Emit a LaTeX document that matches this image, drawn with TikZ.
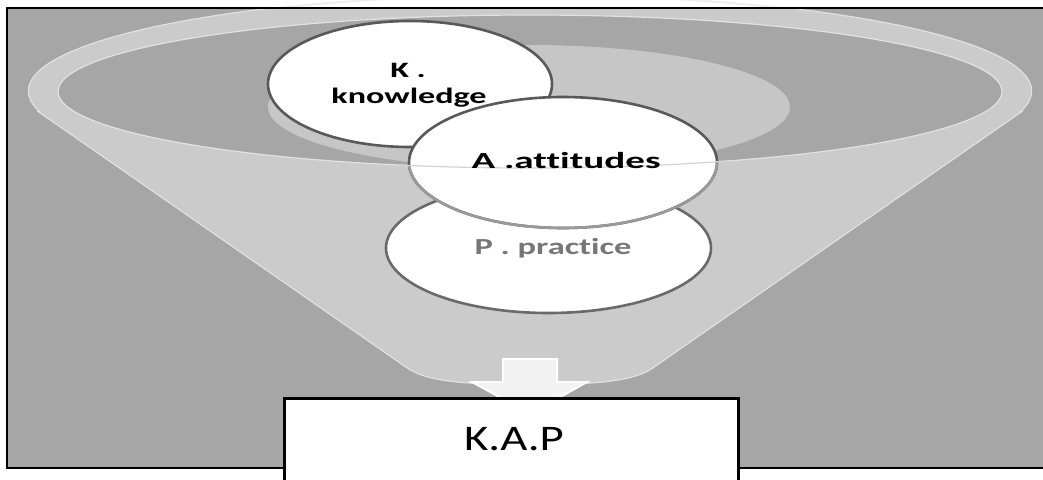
\documentclass[tikz,border=0pt]{standalone}
\usepackage{fontspec}
\setmainfont{Carlito}[Ligatures=NoCommon]
\usepackage{graphicx}
\usetikzlibrary{shapes.geometric}

\definecolor{panel}{HTML}{A6A6A6}
\definecolor{funnelgray}{HTML}{CBCBCB}
\definecolor{rimedge}{HTML}{E2E2E2}
\definecolor{innerlight}{HTML}{C6C6C6}
\definecolor{ringdark}{HTML}{595959}
\definecolor{ringlight}{HTML}{9A9A9A}
\definecolor{arrowfill}{HTML}{F2F2F2}
\definecolor{ptext}{HTML}{777777}

\tikzset{
  ring/.style={ellipse, fill=white, draw=ringdark, line width=2.6pt, inner sep=0pt},
  labelbold/.style={font=\bfseries\fontsize{23}{27}\selectfont, anchor=base, inner sep=0pt},
  resultbox/.style={draw=black, fill=white, line width=3pt, inner sep=0pt},
}
\newcommand{\wider}[2]{\scalebox{#1}[1]{#2}}

\begin{document}
\begin{tikzpicture}[x=1pt,y=-1pt]
\useasboundingbox (0,0) rectangle (1043,479);

% grey panel
\fill[panel] (7,8) rectangle (1050,468);

% faint rim of the funnel above the panel
\begin{scope}
  \clip (0,-5) rectangle (1043,8);
  \draw[rimedge!60!white, line width=2pt] (530,91) ellipse [x radius=501, y radius=96];
\end{scope}

\begin{scope}
  \clip (7,8) rectangle (1043,468);
  % funnel body: edge first, then fill on top
  \draw[rimedge, line width=2.5pt] (530,91) ellipse [x radius=501, y radius=96];
  \draw[rimedge, line width=2.5pt]
    (40,112) -- (407,367) .. controls (425,380) and (460,384) .. (530,384)
    .. controls (600,384) and (635,380) .. (653,367) -- (1020,112) -- cycle;
  \fill[funnelgray] (530,91) ellipse [x radius=501, y radius=96];
  \fill[funnelgray]
    (40,112) -- (407,367) .. controls (425,380) and (460,384) .. (530,384)
    .. controls (600,384) and (635,380) .. (653,367) -- (1020,112) -- cycle;
  % opening of the funnel
  \fill[panel] (530,91.5) ellipse [x radius=472, y radius=76.5];
  \begin{scope}
    \clip (530,91.5) ellipse [x radius=472, y radius=76.5];
    \fill[innerlight] (529,107) ellipse [x radius=261, y radius=62];
  \end{scope}
  \draw[rimedge, line width=1.2pt] (530,91.5) ellipse [x radius=472, y radius=76.5];
\end{scope}

% the three circles
\node[ring, minimum width=284pt, minimum height=126pt] (K) at (410,84) {};
\node[ring, draw=ringdark!90!white, minimum width=325pt, minimum height=130pt] (P) at (548.5,248) {};
\node[ring, minimum width=308pt, minimum height=131pt] (A) at (563,162.5) {};

% lower part of A seen through the funnel front
\begin{scope}[even odd rule]
  \clip (0,0) rectangle (1043,479) (530,91.5) ellipse [x radius=472, y radius=76.5];
  \draw[ringlight, line width=2.6pt] (A.center) ellipse [x radius=154, y radius=65.5];
\end{scope}

% rim line of the opening, crossing A
\begin{scope}
  \clip (400,120) rectangle (730,200);
  \draw[rimedge!85!gray, line width=1.2pt] (530,91.5) ellipse [x radius=472, y radius=76.5];
\end{scope}

% labels
\node[labelbold, font=\bfseries\fontsize{22}{26}\selectfont] (Kt1) at (408,77) {\wider{1.55}{K .}};
\node[labelbold, font=\bfseries\fontsize{22}{26}\selectfont] (Kt2) at (409,103) {\wider{1.55}{knowledge}};
\node[labelbold] (At) at (566,168) {\wider{1.7}{A .attitudes}};
\node[labelbold, text=ptext] (Pt) at (553,254) {\wider{1.5}{P . practice}};

% arrow out of the funnel
\draw[white, fill=arrowfill, line width=2pt]
  (503,359) -- (557,359) -- (557,382) -- (587,382) -- (530,414)
  -- (472,382) -- (503,382) -- cycle;

% result box
\node[resultbox, minimum width=454pt, minimum height=100pt, anchor=north west] (KAP) at (283,397) {};
\node[anchor=base, inner sep=0pt, font=\fontsize{36}{40}\selectfont] (KAPt) at (514,450) {\wider{1.3}{K.A.P}};

% panel outline (top, left, bottom)
\draw[black, line width=1.5pt] (1043,8) -- (7,8) -- (7,468) -- (283,468);
\draw[black, line width=1.5pt] (737,468) -- (1043,468);
\end{tikzpicture}
\end{document}
